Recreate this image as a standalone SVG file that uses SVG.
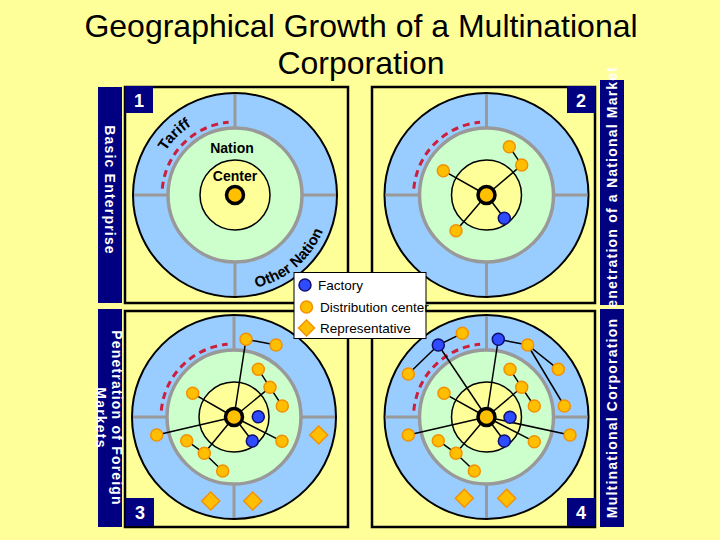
<svg xmlns="http://www.w3.org/2000/svg" xmlns:xlink="http://www.w3.org/1999/xlink" width="720" height="540" viewBox="0 0 720 540">
<style>
.bg{fill:#ffff99}
.box{fill:#ffff99;stroke:#000;stroke-width:2.5}
.bar{fill:#000080}
.num{fill:#fff;font:bold 18px "Liberation Sans",Arial,sans-serif;text-anchor:middle}
.side{fill:#fff;font:bold 14px "Liberation Sans",Arial,sans-serif;letter-spacing:1.2px;text-anchor:middle}
.title{fill:#000;font:32px "Liberation Sans",Arial,sans-serif;text-anchor:middle}
.outer{fill:#99ccff;stroke:#000;stroke-width:2}
.cross{stroke:#999;stroke-width:3;fill:none}
.green{fill:#ccffcc;stroke:#999;stroke-width:3.5}
.inner{fill:#ffff99;stroke:#000;stroke-width:1.5}
.tariff{fill:none;stroke:#cc1f3c;stroke-width:3;stroke-dasharray:7 5}
.lbl{fill:#000;font:bold 14px "Liberation Sans",Arial,sans-serif}
.arc{fill:#000;font:bold 15px "Liberation Sans",Arial,sans-serif}
.conn{stroke:#000;stroke-width:1.5;fill:none}
.hub{fill:#ffc000;stroke:#000;stroke-width:3.5}
.dist{fill:#ffbf00;stroke:#f39200;stroke-width:1.5}
.fact{fill:#2e4bff;stroke:#10106e;stroke-width:1.5}
.rep{fill:#ffbf00;stroke:#f39200;stroke-width:1.5}
.leg{fill:#fff;stroke:#000;stroke-width:1}
.legt{fill:#000;font:13.5px "Liberation Sans",Arial,sans-serif}
</style>
<defs>
<g id="ring">
<circle r="102" class="outer"/>
<path d="M0,-101V101M-101,0H101" class="cross"/>
<circle r="67" class="green"/>
<circle r="35" class="inner"/>
<path d="M-72.7,-6.4A73,73 0 0 1 -6.4,-72.7" class="tariff"/>
</g>
<circle id="d" r="6" class="dist"/>
<circle id="f" r="6" class="fact"/>
<circle id="h" r="8.5" class="hub"/>
<polygon id="r" points="0,-9 9,0 0,9 -9,0" class="rep"/>
<path id="tariffPath" d="M154.3,180.8A82,82 0 0 1 220.8,114.3"/>
<path id="otherPath" d="M218.5,288.6A95,95 0 0 0 329.6,186.7"/>
</defs>
<rect class="bg" x="0" y="0" width="720" height="540"/>
<g id="title">
<text class="title" x="361" y="37">Geographical Growth of a Multinational</text>
<text class="title" x="361" y="74">Corporation</text>
</g>
<g id="panel1">
<rect class="box" x="125" y="87" width="223" height="216"/>
<use href="#ring" x="235" y="195"/>
<rect class="bar" x="125" y="86" width="28" height="27"/>
<text class="num" x="139" y="107">1</text>
<text class="lbl" x="232" y="153" text-anchor="middle">Nation</text>
<text class="lbl" x="235" y="181" text-anchor="middle">Center</text>
<text class="arc"><textPath href="#tariffPath" startOffset="50%" text-anchor="middle">Tariff</textPath></text>
<text class="arc"><textPath href="#otherPath" startOffset="48%" text-anchor="middle">Other Nation</textPath></text>
</g>
<g id="panel2">
<rect class="box" x="372" y="87" width="223" height="216"/>
<use href="#ring" x="486.5" y="195"/>
<rect class="bar" x="567" y="86" width="28" height="27"/>
<text class="num" x="581" y="107">2</text>
</g>
<g id="panel3">
<rect class="box" x="125" y="311" width="223" height="216"/>
<use href="#ring" x="234" y="417"/>
<rect class="bar" x="126" y="498" width="28" height="28"/>
<text class="num" x="140" y="519">3</text>
</g>
<g id="panel4">
<rect class="box" x="372" y="311" width="223" height="216"/>
<use href="#ring" x="486.5" y="417"/>
<rect class="bar" x="567" y="498" width="28" height="28"/>
<text class="num" x="581" y="519">4</text>
</g>
<g id="bar1">
<rect class="bar" x="98" y="87" width="24" height="216"/>
<text class="side" transform="translate(105,190) rotate(90)">Basic Enterprise</text>
</g>
<g id="bar3">
<rect class="bar" x="98" y="309" width="24" height="218"/>
<text class="side" transform="translate(112,418) rotate(90)"><tspan x="0" y="0">Penetration of Foreign</tspan><tspan x="0" y="16">Markets</tspan></text>
</g>
<g id="bar2">
<rect class="bar" x="600" y="80" width="24" height="225"/>
<text class="side" transform="translate(617,192) rotate(-90)">Penetration of a National Market</text>
</g>
<g id="bar4">
<rect class="bar" x="600" y="309" width="24" height="218"/>
<text class="side" transform="translate(617,418) rotate(-90)">Multinational Corporation</text>
</g>
<g id="connectors">
<path class="conn" d="M486.5,195L521.7,165L509.3,146.7M486.5,195L443.3,170.7M486.5,195L456,230.7M486.5,195L504.3,218.3"/>
<path class="conn" d="M234,417L246,339.3L276,345M234,417L270,387.3M258.3,369.3L270,387.3L282.3,406M234,417L192.7,393.3M234,417L252.3,441M234,417L282,441.3M234,417L156.7,435M234,417L204.3,453.3M186.7,440.7L204.3,453.3L222.7,471"/>
<path class="conn" d="M486.5,417L438.3,345L462.3,333.3M438.3,345L408.3,374M486.5,417L498.3,339.3L527.7,345L558.3,369.3M527.7,345L564.3,406M486.5,417L521.7,387.3M510,369.3L521.7,387.3L534.3,406M486.5,417L444,393.3M486.5,417L504.3,441M486.5,417L534.3,441.7M486.5,417L570,435M486.5,417L408.3,435M486.5,417L456,453.3M438.3,440.7L456,453.3L474.3,471"/>
</g>
<g id="nodes1">
<g id="p1-center"><use href="#h" x="235" y="195"/></g>
</g>
<g id="nodes2">
<g id="p2-center"><use href="#h" x="486.5" y="195"/></g>
<g id="p2-d1"><use href="#d" x="509.3" y="146.7"/></g>
<g id="p2-d2"><use href="#d" x="521.7" y="165"/></g>
<g id="p2-d3"><use href="#d" x="443.3" y="170.7"/></g>
<g id="p2-d4"><use href="#d" x="456" y="230.7"/></g>
<g id="p2-f1"><use href="#f" x="504.3" y="218.3"/></g>
</g>
<g id="nodes3">
<g id="p3-center"><use href="#h" x="234" y="417"/></g>
<g id="p3-d1"><use href="#d" x="246" y="339.3"/></g>
<g id="p3-d2"><use href="#d" x="276" y="345"/></g>
<g id="p3-d3"><use href="#d" x="258.3" y="369.3"/></g>
<g id="p3-d4"><use href="#d" x="270" y="387.3"/></g>
<g id="p3-d5"><use href="#d" x="282.3" y="406"/></g>
<g id="p3-d6"><use href="#d" x="192.7" y="393.3"/></g>
<g id="p3-d7"><use href="#d" x="282" y="441.3"/></g>
<g id="p3-d8"><use href="#d" x="156.7" y="435"/></g>
<g id="p3-d9"><use href="#d" x="186.7" y="440.7"/></g>
<g id="p3-d10"><use href="#d" x="204.3" y="453.3"/></g>
<g id="p3-d11"><use href="#d" x="222.7" y="471"/></g>
<g id="p3-f1"><use href="#f" x="258.3" y="416.7"/></g>
<g id="p3-f2"><use href="#f" x="252.3" y="441"/></g>
<g id="p3-r1"><use href="#r" x="318.7" y="435"/></g>
<g id="p3-r2"><use href="#r" x="210.7" y="501"/></g>
<g id="p3-r3"><use href="#r" x="252.7" y="501"/></g>
</g>
<g id="nodes4">
<g id="p4-center"><use href="#h" x="486.5" y="417"/></g>
<g id="p4-f1"><use href="#f" x="438.3" y="345"/></g>
<g id="p4-d1"><use href="#d" x="462.3" y="333.3"/></g>
<g id="p4-d2"><use href="#d" x="408.3" y="374"/></g>
<g id="p4-f2"><use href="#f" x="498.3" y="339.3"/></g>
<g id="p4-d3"><use href="#d" x="527.7" y="345"/></g>
<g id="p4-d4"><use href="#d" x="558.3" y="369.3"/></g>
<g id="p4-d5"><use href="#d" x="564.3" y="406"/></g>
<g id="p4-d6"><use href="#d" x="510" y="369.3"/></g>
<g id="p4-d7"><use href="#d" x="521.7" y="387.3"/></g>
<g id="p4-d8"><use href="#d" x="534.3" y="406"/></g>
<g id="p4-d9"><use href="#d" x="444" y="393.3"/></g>
<g id="p4-f3"><use href="#f" x="510" y="417.3"/></g>
<g id="p4-f4"><use href="#f" x="504.3" y="441"/></g>
<g id="p4-d10"><use href="#d" x="534.3" y="441.7"/></g>
<g id="p4-d11"><use href="#d" x="570" y="435"/></g>
<g id="p4-d12"><use href="#d" x="408.3" y="435"/></g>
<g id="p4-d13"><use href="#d" x="438.3" y="440.7"/></g>
<g id="p4-d14"><use href="#d" x="456" y="453.3"/></g>
<g id="p4-d15"><use href="#d" x="474.3" y="471"/></g>
<g id="p4-r1"><use href="#r" x="464.3" y="498.3"/></g>
<g id="p4-r2"><use href="#r" x="506.7" y="498.3"/></g>
</g>
<g id="legend">
<rect class="leg" x="294" y="272.5" width="132" height="66"/>
<use href="#f" x="305" y="285"/>
<text class="legt" x="318" y="290">Factory</text>
<use href="#d" x="306.5" y="307"/>
<text class="legt" x="320" y="312">Distribution center</text>
<polygon class="rep" points="306.5,320 314.5,328 306.5,336 298.5,328"/>
<text class="legt" x="320" y="333">Representative</text>
</g>
</svg>
